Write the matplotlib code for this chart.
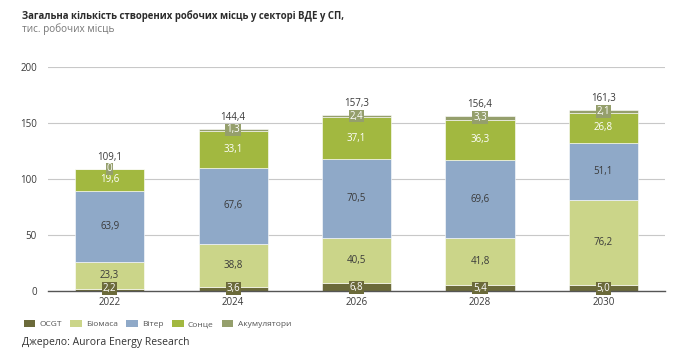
import numpy as np
import matplotlib
matplotlib.use("Agg")
import matplotlib.pyplot as plt
from matplotlib.patches import Patch

plt.rcParams['font.family'] = ['Open Sans', 'DejaVu Sans']

# дані
years = ['2022', '2024', '2026', '2028', '2030']
ocgt = [2.2, 3.6, 6.8, 5.4, 5.0]
biomasa = [23.3, 38.8, 40.5, 41.8, 76.2]
viter = [63.9, 67.6, 70.5, 69.6, 51.1]
sontse = [19.6, 33.1, 37.1, 36.3, 26.8]
akum = [0, 1.3, 2.4, 3.3, 2.1]
totals = [109.1, 144.4, 157.3, 156.4, 161.3]

names = ['OCGT', 'Біомаса', 'Вітер', 'Сонце', 'Акумулятори']
colors = ['#6b6a3a', '#cbd589', '#8fa9c8', '#a2b840', '#959f6c']
series = [ocgt, biomasa, viter, sontse, akum]

def fmt(v):
    if v == 0:
        return '0'
    return ('%.1f' % v).replace('.', ',')

fig = plt.figure(figsize=(6.85, 3.62), dpi=100)
ax = fig.add_axes([0.070, 0.196, 0.901, 0.619])

x = np.arange(len(years))
w = 0.56
bottom = np.zeros(len(years))
for k in range(len(series)):
    vals = np.array(series[k])
    ax.bar(x, vals, w, bottom=bottom, color=colors[k], edgecolor='white', linewidth=0.4, zorder=3)
    for i in range(len(years)):
        yc = bottom[i] + vals[i] / 2
        if k == 0:
            ax.text(x[i], max(yc, 2.2), fmt(vals[i]), ha='center', va='center', fontsize=7, color='white', zorder=5,
                    bbox=dict(boxstyle='square,pad=0.08', fc=colors[0], ec='none'))
        elif k == 4:
            ax.text(x[i], yc, fmt(vals[i]), ha='center', va='center', fontsize=7, color='white', zorder=5,
                    bbox=dict(boxstyle='square,pad=0.08', fc=colors[4], ec='none'))
        elif k == 3:
            ax.text(x[i], yc, fmt(vals[i]), ha='center', va='center', fontsize=7, color='white', zorder=5)
        else:
            ax.text(x[i], yc, fmt(vals[i]), ha='center', va='center', fontsize=7, color='#3a3a3a', zorder=5)
    bottom = bottom + vals

for i in range(len(years)):
    ax.text(x[i], bottom[i] + 10.5, fmt(totals[i]), ha='center', va='center', fontsize=7, color='#3a3a3a')

ax.set_xlim(-0.5, 4.5)
ax.set_ylim(0, 200)
ax.set_yticks([0, 50, 100, 150, 200])
ax.set_xticks(x)
ax.set_xticklabels(years)
ax.tick_params(axis='both', length=0, labelsize=7, colors='#3a3a3a')
ax.tick_params(axis='x', pad=4)
ax.tick_params(axis='y', pad=8)
ax.grid(axis='y', color='#c8c8c8', linewidth=0.8, zorder=0)
for s in ['top', 'right', 'left']:
    ax.spines[s].set_visible(False)
ax.spines['bottom'].set_color('#555555')
ax.spines['bottom'].set_linewidth(1.0)
ax.spines['bottom'].set_zorder(4)

fig.text(22 / 685, 1 - 16 / 362, 'Загальна кількість створених робочих місць у секторі ВДЕ у СП,',
         fontsize=6.9, fontweight='bold', color='#2b2b2b', va='center')
fig.text(22 / 685, 1 - 29 / 362, 'тис. робочих місць', fontsize=7.2, color='#777777', va='center')

handles = [Patch(facecolor=colors[k], edgecolor='none') for k in range(5)]
fig.legend(handles, names, loc='center left', bbox_to_anchor=(16 / 685, 1 - 324 / 362), ncol=5,
           frameon=False, fontsize=6, handlelength=1.4, handleheight=0.9, handletextpad=0.5,
           columnspacing=1.0, labelcolor='#555555')

fig.text(22 / 685, 1 - 343 / 362, 'Джерело: Aurora Energy Research', fontsize=7.5, color='#333333', va='center')

fig.savefig('out.png', dpi=100)
